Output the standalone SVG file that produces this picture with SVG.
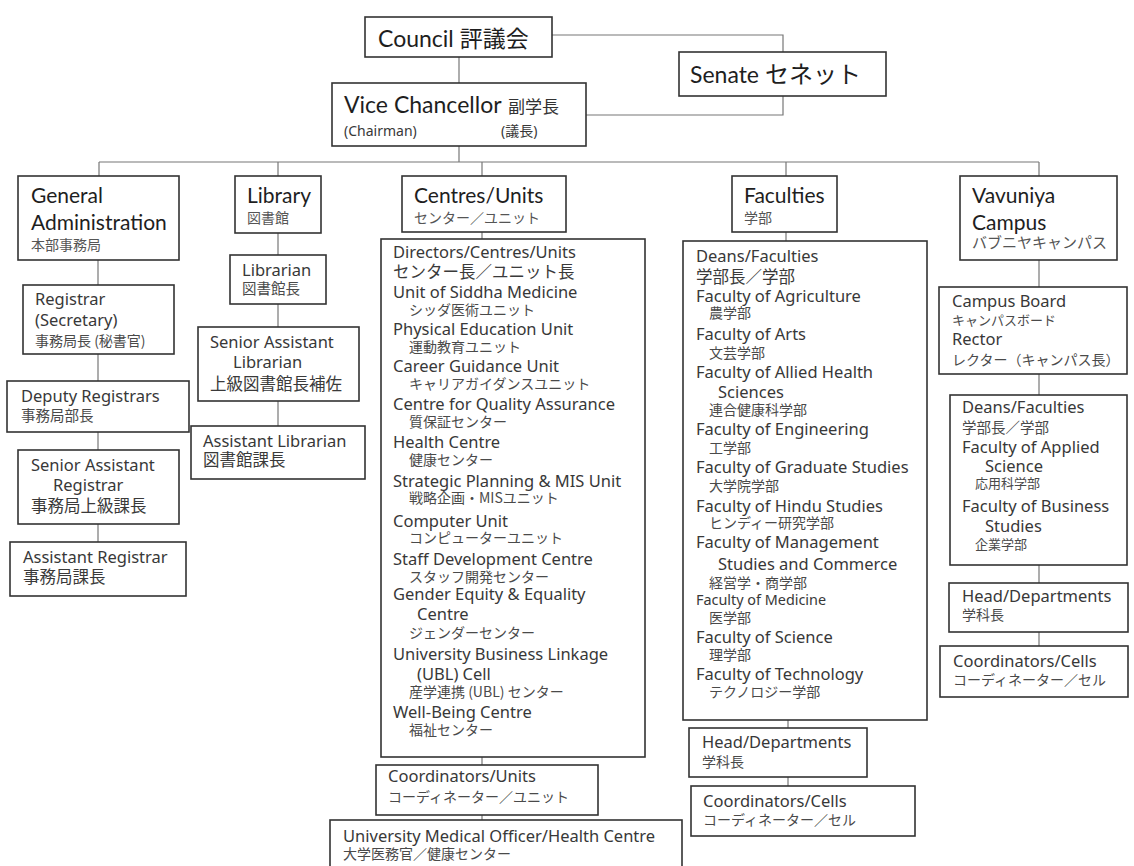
<svg xmlns="http://www.w3.org/2000/svg" width="1134" height="866" viewBox="0 0 1134 866">
  <style>
    .box { fill: #fff; stroke: #333; stroke-width: 1.6; }
    .ln { fill: none; stroke: #777; stroke-width: 1.2; }
    .h { font-family: Lato, "Noto Sans CJK JP", sans-serif; fill: #1e1e1e; font-size: 21px; }
    .hj { font-family: "Noto Sans CJK JP", sans-serif; fill: #555; font-size: 14px; }
    .b { font-family: "Noto Sans", "Noto Sans CJK JP", sans-serif; fill: #383838; font-size: 16.5px; }
    .j { font-family: "Noto Sans CJK JP", sans-serif; fill: #4a4a4a; font-size: 14px; }
    .jl { font-family: "Noto Sans CJK JP", sans-serif; fill: #3a3a3a; font-size: 16.5px; }
    .top { font-size: 23px; }
    .cjk { font-family: "Noto Sans CJK JP", sans-serif; }
  </style>
  <rect width="1134" height="866" fill="#fff"/>

  <!-- connectors -->
  <g id="connectors">
    <path class="ln" d="M552,35 H783 V52"/>
    <path class="ln" d="M783,96 V115 H586"/>
    <path class="ln" d="M459,57 V83"/>
    <path class="ln" d="M459,146 V162"/>
    <path class="ln" d="M99,162 H1039"/>
    <path class="ln" d="M99,162 V176 M278,162 V176 M482,162 V176 M786,162 V176 M1039,162 V176"/>
    <path class="ln" d="M98,260 V285 M98,354 V381 M98,432 V450 M98,524 V542"/>
    <path class="ln" d="M278,233 V255 M278,304 V327 M278,401 V426"/>
    <path class="ln" d="M482,232 V239 M482,757 V765 M482,815 V820"/>
    <path class="ln" d="M786,232 V241 M788,720 V728 M788,777 V786"/>
    <path class="ln" d="M1039,260 V287 M1039,374 V395 M1039,565 V583 M1039,632 V646"/>
  </g>

  <g id="council">
    <rect class="box" x="365" y="17" width="187" height="40"/>
    <text class="h top" x="378" y="47">Council <tspan class="cjk">評議会</tspan></text>
  </g>

  <g id="senate">
    <rect class="box" x="679" y="52" width="207" height="44"/>
    <text class="h top" x="690" y="83">Senate <tspan class="cjk" style="font-size:24px">セネット</tspan></text>
  </g>

  <g id="vice-chancellor">
    <rect class="box" x="332" y="83" width="254" height="63"/>
    <text class="h top" x="344" y="113">Vice Chancellor</text>
    <text class="hj" x="508" y="113" style="font-size:17px;fill:#333">副学長</text>
    <text class="b" x="344" y="136" style="font-size:14px">(Chairman)</text>
    <text class="b" x="501" y="136" style="font-size:14px">(議長)</text>
  </g>

  <g id="general-administration">
    <rect class="box" x="18" y="176" width="161" height="84"/>
    <text class="h" x="31" y="203">General</text>
    <text class="h" x="31" y="230">Administration</text>
    <text class="hj" x="31" y="250">本部事務局</text>
  </g>

  <g id="library">
    <rect class="box" x="235" y="176" width="86" height="57"/>
    <text class="h" x="247" y="203">Library</text>
    <text class="hj" x="247" y="223">図書館</text>
  </g>

  <g id="centres-units">
    <rect class="box" x="402" y="176" width="164" height="56"/>
    <text class="h" x="414" y="203">Centres/Units</text>
    <text class="hj" x="414" y="223">センター／ユニット</text>
  </g>

  <g id="faculties">
    <rect class="box" x="732" y="176" width="105" height="56"/>
    <text class="h" x="744" y="203">Faculties</text>
    <text class="hj" x="744" y="223">学部</text>
  </g>

  <g id="vavuniya-campus">
    <rect class="box" x="960" y="176" width="157" height="84"/>
    <text class="h" x="972" y="203">Vavuniya</text>
    <text class="h" x="972" y="230">Campus</text>
    <text class="hj" x="972" y="248" style="font-size:15px">バブニヤキャンパス</text>
  </g>

  <!-- General Administration chain -->
  <g id="registrar">
    <rect class="box" x="23" y="285" width="151" height="69"/>
    <text class="b" x="35" y="305">Registrar</text>
    <text class="b" x="35" y="326">(Secretary)</text>
    <text class="j" x="35" y="346">事務局長 (秘書官)</text>
  </g>
  <g id="deputy-registrars">
    <rect class="box" x="7" y="381" width="182" height="51"/>
    <text class="b" x="21" y="402">Deputy Registrars</text>
    <text class="j" x="21" y="421" style="font-size:14.5px">事務局部長</text>
  </g>
  <g id="senior-assistant-registrar">
    <rect class="box" x="18" y="450" width="161" height="74"/>
    <text class="b" x="31" y="471">Senior Assistant</text>
    <text class="b" x="53" y="491">Registrar</text>
    <text class="jl" x="31" y="512">事務局上級課長</text>
  </g>
  <g id="assistant-registrar">
    <rect class="box" x="10" y="542" width="176" height="54"/>
    <text class="b" x="23" y="563">Assistant Registrar</text>
    <text class="jl" x="23" y="583">事務局課長</text>
  </g>

  <!-- Library chain -->
  <g id="librarian">
    <rect class="box" x="230" y="255" width="96" height="49"/>
    <text class="b" x="242" y="276">Librarian</text>
    <text class="j" x="242" y="294" style="font-size:14.5px">図書館長</text>
  </g>
  <g id="senior-assistant-librarian">
    <rect class="box" x="198" y="327" width="161" height="74"/>
    <text class="b" x="210" y="348">Senior Assistant</text>
    <text class="b" x="233" y="368">Librarian</text>
    <text class="jl" x="210" y="390">上級図書館長補佐</text>
  </g>
  <g id="assistant-librarian">
    <rect class="box" x="191" y="426" width="174" height="53"/>
    <text class="b" x="203" y="447">Assistant Librarian</text>
    <text class="jl" x="203" y="466">図書館課長</text>
  </g>

  <!-- Centres / Units list -->
  <g id="centres-list">
    <rect class="box" x="381" y="239" width="264" height="518"/>
    <text class="b" x="393" y="258">Directors/Centres/Units</text>
    <text class="jl" x="393" y="278">センター長／ユニット長</text>
    <text class="b" x="393" y="298">Unit of Siddha Medicine</text>
    <text class="j" x="409" y="315">シッダ医術ユニット</text>
    <text class="b" x="393" y="335">Physical Education Unit</text>
    <text class="j" x="409" y="352">運動教育ユニット</text>
    <text class="b" x="393" y="372">Career Guidance Unit</text>
    <text class="j" x="409" y="389">キャリアガイダンスユニット</text>
    <text class="b" x="393" y="410">Centre for Quality Assurance</text>
    <text class="j" x="409" y="427">質保証センター</text>
    <text class="b" x="393" y="448">Health Centre</text>
    <text class="j" x="409" y="465">健康センター</text>
    <text class="b" x="393" y="487">Strategic Planning &amp; MIS Unit</text>
    <text class="j" x="409" y="503">戦略企画・MISユニット</text>
    <text class="b" x="393" y="527">Computer Unit</text>
    <text class="j" x="409" y="543">コンピューターユニット</text>
    <text class="b" x="393" y="565">Staff Development Centre</text>
    <text class="j" x="409" y="582">スタッフ開発センター</text>
    <text class="b" x="393" y="600">Gender Equity &amp; Equality</text>
    <text class="b" x="417" y="620">Centre</text>
    <text class="j" x="409" y="638">ジェンダーセンター</text>
    <text class="b" x="393" y="660">University Business Linkage</text>
    <text class="b" x="417" y="680">(UBL) Cell</text>
    <text class="j" x="409" y="697">産学連携 (UBL) センター</text>
    <text class="b" x="393" y="718">Well-Being Centre</text>
    <text class="j" x="409" y="735">福祉センター</text>
  </g>
  <g id="coordinators-units">
    <rect class="box" x="376" y="765" width="222" height="50"/>
    <text class="b" x="388" y="782">Coordinators/Units</text>
    <text class="j" x="388" y="802">コーディネーター／ユニット</text>
  </g>
  <g id="medical-officer">
    <rect class="box" x="330" y="820" width="352" height="60"/>
    <text class="b" x="343" y="842">University Medical Officer/Health Centre</text>
    <text class="j" x="343" y="859">大学医務官／健康センター</text>
  </g>

  <!-- Faculties list -->
  <g id="faculties-list">
    <rect class="box" x="683" y="241" width="244" height="479"/>
    <text class="b" x="696" y="262">Deans/Faculties</text>
    <text class="jl" x="696" y="283">学部長／学部</text>
    <text class="b" x="696" y="302">Faculty of Agriculture</text>
    <text class="j" x="709" y="318">農学部</text>
    <text class="b" x="696" y="340">Faculty of Arts</text>
    <text class="j" x="709" y="358">文芸学部</text>
    <text class="b" x="696" y="378">Faculty of Allied Health</text>
    <text class="b" x="718" y="398">Sciences</text>
    <text class="j" x="709" y="415">連合健康科学部</text>
    <text class="b" x="696" y="435">Faculty of Engineering</text>
    <text class="j" x="709" y="453">工学部</text>
    <text class="b" x="696" y="473">Faculty of Graduate Studies</text>
    <text class="j" x="709" y="491">大学院学部</text>
    <text class="b" x="696" y="512">Faculty of Hindu Studies</text>
    <text class="j" x="709" y="528">ヒンディー研究学部</text>
    <text class="b" x="696" y="548">Faculty of Management</text>
    <text class="b" x="718" y="570">Studies and Commerce</text>
    <text class="j" x="709" y="588">経営学・商学部</text>
    <text class="b" x="696" y="605" style="font-size:14.4px">Faculty of Medicine</text>
    <text class="j" x="709" y="623">医学部</text>
    <text class="b" x="696" y="643">Faculty of Science</text>
    <text class="j" x="709" y="660">理学部</text>
    <text class="b" x="696" y="680">Faculty of Technology</text>
    <text class="j" x="709" y="697">テクノロジー学部</text>
  </g>
  <g id="faculty-heads">
    <rect class="box" x="689" y="728" width="178" height="49"/>
    <text class="b" x="702" y="748">Head/Departments</text>
    <text class="j" x="702" y="767">学科長</text>
  </g>
  <g id="faculty-coordinators">
    <rect class="box" x="691" y="786" width="224" height="50"/>
    <text class="b" x="703" y="807">Coordinators/Cells</text>
    <text class="j" x="703" y="825">コーディネーター／セル</text>
  </g>

  <!-- Vavuniya Campus chain -->
  <g id="campus-board">
    <rect class="box" x="939" y="287" width="188" height="87"/>
    <text class="b" x="952" y="307">Campus Board</text>
    <text class="j" x="952" y="325" style="font-size:13px">キャンパスボード</text>
    <text class="b" x="952" y="345">Rector</text>
    <text class="j" x="952" y="365">レクター（キャンパス長）</text>
  </g>
  <g id="campus-faculties">
    <rect class="box" x="950" y="395" width="177" height="170"/>
    <text class="b" x="962" y="413">Deans/Faculties</text>
    <text class="j" x="962" y="433" style="font-size:14.5px">学部長／学部</text>
    <text class="b" x="962" y="453">Faculty of Applied</text>
    <text class="b" x="985" y="472">Science</text>
    <text class="j" x="975" y="488" style="font-size:13px">応用科学部</text>
    <text class="b" x="962" y="512">Faculty of Business</text>
    <text class="b" x="985" y="532">Studies</text>
    <text class="j" x="975" y="549" style="font-size:13px">企業学部</text>
  </g>
  <g id="campus-heads">
    <rect class="box" x="949" y="583" width="179" height="49"/>
    <text class="b" x="962" y="602">Head/Departments</text>
    <text class="j" x="962" y="620">学科長</text>
  </g>
  <g id="campus-coordinators">
    <rect class="box" x="940" y="646" width="188" height="51"/>
    <text class="b" x="953" y="667">Coordinators/Cells</text>
    <text class="j" x="953" y="685">コーディネーター／セル</text>
  </g>
</svg>
